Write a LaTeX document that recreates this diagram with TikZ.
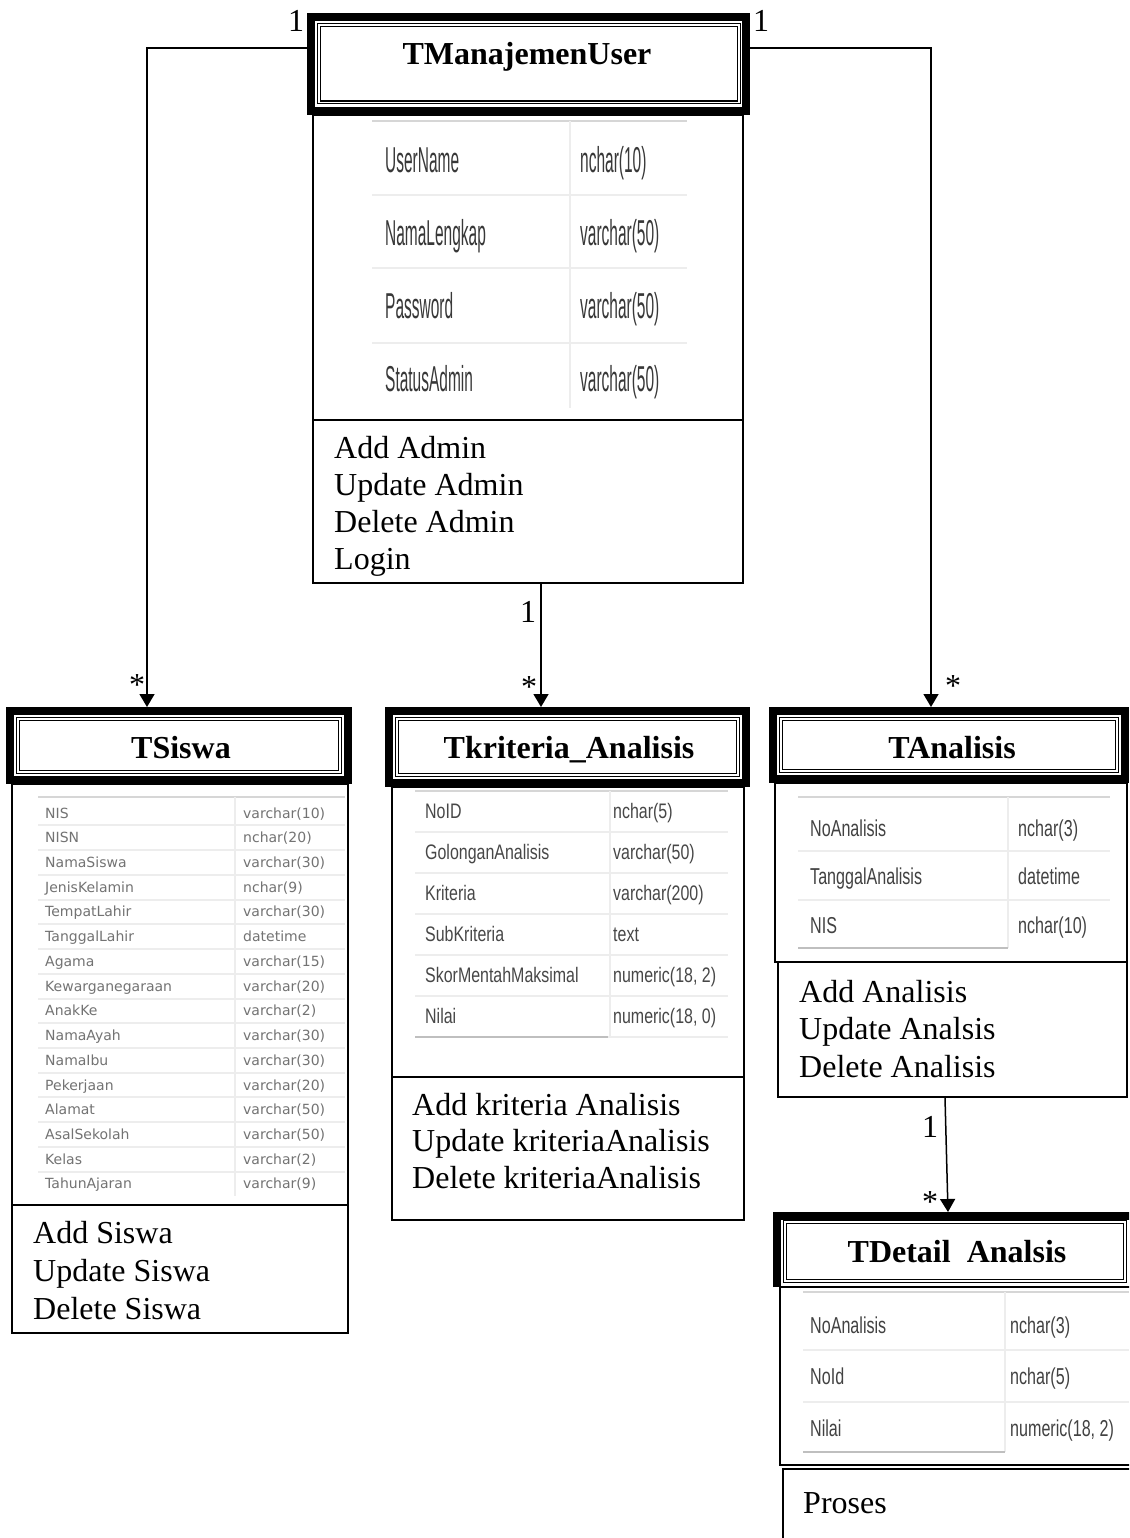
\documentclass[tikz,border=0pt]{standalone}
\usepackage{fontspec}
\setmainfont{Liberation Serif}
\newfontfamily\gridfont{Liberation Sans}
\newfontfamily\smallgridfont{DejaVu Sans}
\usetikzlibrary{arrows.meta}

% rectangle node given by its corner coordinates (x1,y1) (x2,y2)
\newcommand\tbox[6]{%
  \node[#6, minimum width={(#4)-(#2)}, minimum height={(#5)-(#3)}]
    (#1) at ({((#2)+(#4))/2},{((#3)+(#5))/2}) {};}

\begin{document}
\begin{tikzpicture}[x=1pt,y=-1pt,
  hdr/.style={draw, line width=8pt, inner sep=0pt},
  frame/.style={draw, line width=1.5pt, inner sep=0pt},
  dbl/.style={draw, line width=1.2pt, double, double distance=1.6pt},
  conn/.style={line width=1.5pt, -{Triangle[length=13pt,width=15pt]}},
  title/.style={font=\fontsize{32}{38}\selectfont\bfseries, anchor=base, inner sep=0pt},
  ops/.style={font=\fontsize{32}{37}\selectfont, align=left, anchor=north west, inner sep=0pt},
  card/.style={font=\fontsize{32}{38}\selectfont, anchor=base, inner sep=0pt},
  gridline/.style={draw=black!7, line width=2pt},
  tabedge/.style={draw=black!16, line width=2.5pt},
  tabfoot/.style={draw=black!25, line width=2.5pt},
  cellU/.style={anchor=base west, inner sep=0pt, text=black!78, font=\gridfont\fontsize{36}{40}\selectfont},
  cellS/.style={anchor=base west, inner sep=0pt, text=black!55, font=\smallgridfont\fontsize{14}{16}\selectfont},
  cellK/.style={anchor=base west, inner sep=0pt, text=black!72, font=\gridfont\fontsize{21}{24}\selectfont},
  cellA/.style={anchor=base west, inner sep=0pt, text=black!74, font=\gridfont\fontsize{23}{26}\selectfont},
]
\clip (0,0) rectangle (1129,1538);
\fill[white] (0,0) rectangle (1129,1538);

% ---------------- TManajemenUser ----------------
\tbox{muB}{313}{115}{743}{420}{frame}
\tbox{muM}{313}{420}{743}{583}{frame}
\tbox{mu}{311}{17}{746}{111}{hdr}
\draw[dbl] ([xshift=12pt,yshift=-12pt]mu.north west) rectangle ([xshift=-11pt,yshift=12.5pt]mu.south east);
\node[title] (mu-t) at (527,65) {TManajemenUser};
\draw[tabedge] (372,121) -- (687,121);
\foreach \y in {195,268,343} \draw[gridline] (372,\y) -- (687,\y);
\draw[gridline] (570,121) -- (570,408);
\foreach \n/\t [count=\k from 0] in {UserName/nchar(10),NamaLengkap/varchar(50),Password/varchar(50),StatusAdmin/varchar(50)}{
  \node[cellU] (mu-n\k) at (385,{173+72.7*\k}) {\scalebox{0.43}[1]{\n}};
  \node[cellU] (mu-y\k) at (580,{173+72.7*\k}) {\scalebox{0.43}[1]{\t}};
}
\node[ops] (mu-ops) at (334,436) {Add Admin\\Update Admin\\Delete Admin\\Login};

% ---------------- TSiswa ----------------
\tbox{siswaB}{12}{784}{348}{1205}{frame}
\tbox{siswaM}{12}{1205}{348}{1333}{frame}
\tbox{siswa}{10}{711}{348}{780}{hdr}
\draw[dbl] ([xshift=12pt,yshift=-12pt]siswa.north west) rectangle ([xshift=-12pt,yshift=12pt]siswa.south east);
\node[title] (siswa-t) at (181,758) {TSiswa};
\draw[tabedge] (38,797) -- (345,797);
\foreach \k in {0,...,14} \draw[gridline] (38,{825.4+24.73*\k}) -- (345,{825.4+24.73*\k});
\draw[gridline] (235,797) -- (235,1196);
\foreach \n/\t [count=\k from 0] in {NIS/varchar(10),NISN/nchar(20),NamaSiswa/varchar(30),JenisKelamin/nchar(9),TempatLahir/varchar(30),TanggalLahir/datetime,Agama/varchar(15),Kewarganegaraan/varchar(20),AnakKe/varchar(2),NamaAyah/varchar(30),NamaIbu/varchar(30),Pekerjaan/varchar(20),Alamat/varchar(50),AsalSekolah/varchar(50),Kelas/varchar(2),TahunAjaran/varchar(9)}{
  \node[cellS] (siswa-n\k) at (45,{818+24.73*\k}) {\n};
  \node[cellS] (siswa-y\k) at (243,{818+24.73*\k}) {\t};
}
\node[ops, font=\fontsize{32}{38}\selectfont] (siswa-ops) at (33,1221) {Add Siswa\\Update Siswa\\Delete Siswa};

% ---------------- Tkriteria_Analisis ----------------
\tbox{kritB}{392}{787}{744}{1077}{frame}
\tbox{kritM}{392}{1077}{744}{1220}{frame}
\tbox{krit}{389}{711}{746}{783}{hdr}
\draw[dbl] ([xshift=12pt,yshift=-12pt]krit.north west) rectangle ([xshift=-12pt,yshift=12pt]krit.south east);
\node[title] (krit-t) at (569,758) {Tkriteria\_Analisis};
\draw[tabedge] (415,791) -- (728,791);
\foreach \k in {0,...,4} \draw[gridline] (415,{831.5+41*\k}) -- (728,{831.5+41*\k});
\draw[gridline] (610,791) -- (610,1037);
\draw[tabfoot] (415,1037) -- (608,1037);
\draw[gridline] (608,1037) -- (728,1037);
\foreach \n/\t [count=\k from 0] in {NoID/nchar(5),GolonganAnalisis/varchar(50),Kriteria/varchar(200),SubKriteria/text,SkorMentahMaksimal/{numeric(18, 2)},Nilai/{numeric(18, 0)}}{
  \node[cellK] (krit-n\k) at (425,{818.5+41*\k}) {\scalebox{0.76}[1]{\n}};
  \node[cellK] (krit-y\k) at (613,{818.5+41*\k}) {\scalebox{0.76}[1]{\t}};
}
\node[ops, font=\fontsize{32}{36.5}\selectfont] (krit-ops) at (412,1093) {Add kriteria Analisis\\Update kriteriaAnalisis\\Delete kriteriaAnalisis};

% ---------------- TAnalisis ----------------
\tbox{anaB}{775}{783}{1127}{962}{frame}
\tbox{anaM}{778}{962}{1127}{1097}{frame}
\tbox{ana}{773}{711}{1125}{779}{hdr}
\draw[dbl] ([xshift=12pt,yshift=-12pt]ana.north west) rectangle ([xshift=-12pt,yshift=12pt]ana.south east);
\node[title] (ana-t) at (952,758) {TAnalisis};
\draw[tabedge] (798,797) -- (1110,797);
\foreach \y in {851,900} \draw[gridline] (798,\y) -- (1110,\y);
\draw[gridline] (1008,797) -- (1008,948);
\draw[tabfoot] (798,948) -- (1008,948);
\foreach \n/\t [count=\k from 0] in {NoAnalisis/nchar(3),TanggalAnalisis/datetime,NIS/nchar(10)}{
  \node[cellA] (ana-n\k) at (810,{836+48.5*\k}) {\scalebox{0.7}[1]{\n}};
  \node[cellA] (ana-y\k) at (1018,{836+48.5*\k}) {\scalebox{0.7}[1]{\t}};
}
\node[ops, font=\fontsize{32}{37.5}\selectfont] (ana-ops) at (799,980) {Add Analisis\\Update Analsis\\Delete Analisis};

% ---------------- TDetail Analsis ----------------
\tbox{detB}{780}{1287}{1145}{1465}{frame}
\tbox{detM}{783}{1469}{1145}{1560}{frame}
\node[inner sep=0pt, outer sep=0pt, minimum width=368pt, minimum height=68pt] (det) at (961,1250) {};
\draw[line width=8pt] ([yshift=-3pt]det.south west) -- (det.north west) -- (det.north east);
\draw[dbl] ([xshift=8pt,yshift=-6pt]det.north west) rectangle ([xshift=-20pt,yshift=3pt]det.south east);
\node[title] (det-t) at (957,1262) {TDetail\ \ Analsis};
\draw[tabedge] (803,1292) -- (1129,1292);
\foreach \y in {1350,1402} \draw[gridline] (803,\y) -- (1129,\y);
\draw[gridline] (1005,1292) -- (1005,1452);
\draw[tabfoot] (803,1452) -- (1005,1452);
\foreach \n/\t [count=\k from 0] in {NoAnalisis/nchar(3),NoId/nchar(5),Nilai/{numeric(18, 2)}}{
  \node[cellA] (det-n\k) at (810,{1333+51.5*\k}) {\scalebox{0.7}[1]{\n}};
  \node[cellA] (det-y\k) at (1010,{1333+51.5*\k}) {\scalebox{0.7}[1]{\t}};
}
\node[ops] (det-ops) at (803,1492) {Proses};

% ---------------- associations ----------------
\draw[conn] ([yshift=16pt]mu.west) -| ([xshift=-32pt]siswa.north);
\draw[conn] ([yshift=16pt]mu.east) -| ([xshift=-18pt]ana.north);
\draw[conn] ([xshift=13pt]muM.south) -- ([xshift=13pt]muM.south |- krit.north);
\draw[conn] ([xshift=-7.5pt]anaM.south) -- ([xshift=-13pt,yshift=4pt]det.north);

% multiplicities
\node[card] (m1) at (296,32) {1};
\node[card] (m2) at (761,32) {1};
\node[card] (m3) at (137,695) {*};
\node[card] (m4) at (953,696) {*};
\node[card] (m5) at (528,622) {1};
\node[card] (m6) at (529,697) {*};
\node[card] (m7) at (930,1137) {1};
\node[card] (m8) at (930,1212) {*};
\end{tikzpicture}
\end{document}
